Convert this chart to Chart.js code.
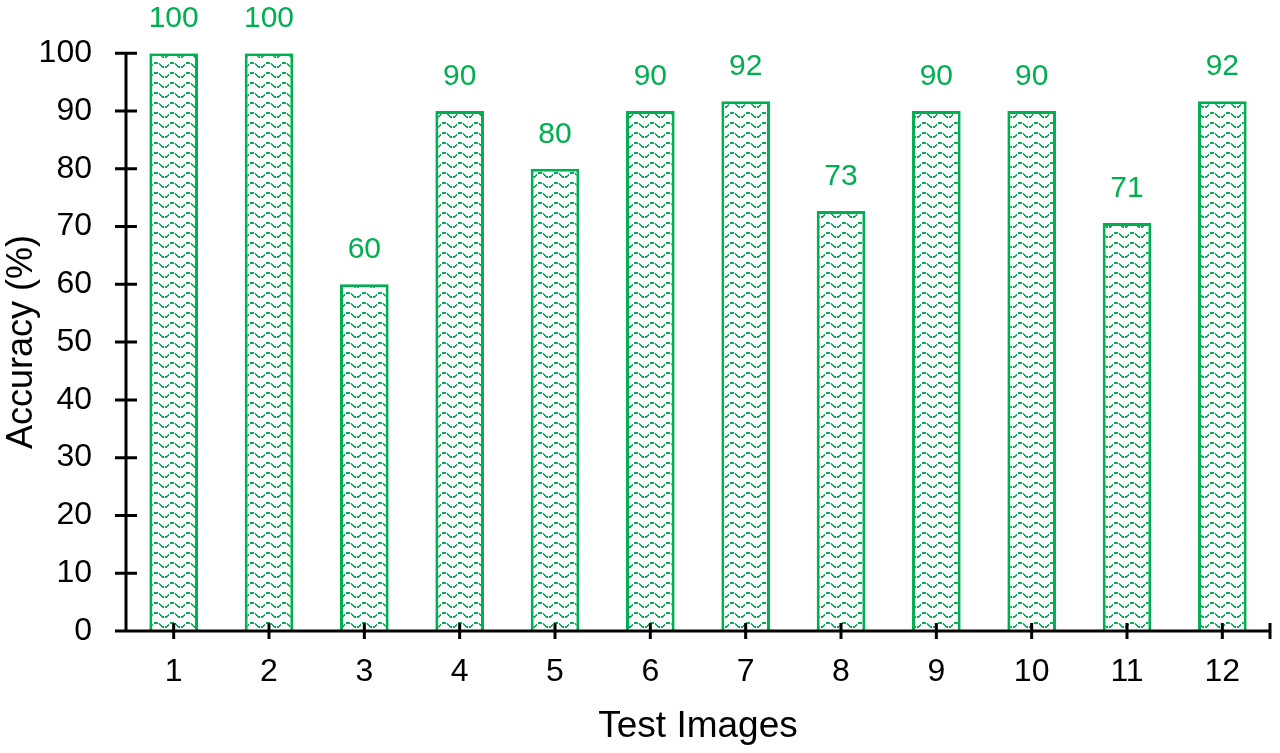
<!DOCTYPE html>
<html>
<head>
<meta charset="utf-8">
<title>Accuracy per test image</title>
<script src="https://cdn.jsdelivr.net/npm/chart.js@4.4.1/dist/chart.umd.min.js"></script>
<style>
  html, body { margin: 0; padding: 0; background: #fff; }
  #wrap { width: 1280px; height: 753px; position: relative; }
</style>
</head>
<body>
<div id="wrap"><canvas id="accChart"></canvas></div>
<script>
const imageLabels = ["1", "2", "3", "4", "5", "6", "7", "8", "9", "10", "11", "12"];
const accuracy = [100, 100, 60, 90, 80, 90, 91.7, 72.7, 90, 90, 70.6, 91.7];
const yTicks = [0, 10, 20, 30, 40, 50, 60, 70, 80, 90, 100];

const green = "#00B050";
const font = "'Liberation Sans', Arial, sans-serif";

// wavy hatch like the Excel "wave" pattern fill
function makeWavePattern() {
  const c = document.createElement("canvas");
  c.width = 16;
  c.height = 10;
  const g = c.getContext("2d");
  g.fillStyle = "#fff";
  g.fillRect(0, 0, 16, 10);
  g.fillStyle = green;
  for (let x = 0; x < 16; x++) {
    if (x % 5 === 4) continue;
    const y = Math.round(4 + 2.5 * Math.sin((x / 16) * Math.PI * 2));
    g.fillRect(x, y, 1, 2);
  }
  return g.createPattern(c, "repeat");
}

// axes drawn as lines with ticks crossing them
const axisPlugin = {
  id: "crossAxes",
  afterDraw(chart) {
    const ctx = chart.ctx;
    const x = chart.scales.x;
    const y = chart.scales.y;
    const left = chart.chartArea.left;
    const right = chart.chartArea.right;
    const y0 = y.getPixelForValue(0);
    ctx.save();
    ctx.strokeStyle = "#000";
    ctx.lineWidth = 3;
    ctx.beginPath();
    ctx.moveTo(left, y.getPixelForValue(100));
    ctx.lineTo(left, y0);
    ctx.moveTo(left - 11, y0);
    ctx.lineTo(right, y0);
    yTicks.forEach(v => {
      const py = y.getPixelForValue(v);
      ctx.moveTo(left - 11, py);
      ctx.lineTo(left + 11, py);
    });
    imageLabels.forEach((l, i) => {
      const px = x.getPixelForValue(i);
      ctx.moveTo(px, y0 - 8);
      ctx.lineTo(px, y0 + 8);
    });
    ctx.moveTo(right, y0 - 8);
    ctx.lineTo(right, y0 + 8);
    ctx.stroke();
    ctx.restore();
  }
};

const valueLabels = {
  id: "valueLabels",
  afterDatasetsDraw(chart) {
    const ctx = chart.ctx;
    const meta = chart.getDatasetMeta(0);
    ctx.save();
    ctx.fillStyle = green;
    ctx.font = "30px " + font;
    ctx.textAlign = "center";
    ctx.textBaseline = "alphabetic";
    meta.data.forEach((bar, i) => {
      ctx.fillText(Math.round(accuracy[i]), bar.x, bar.y - 26);
    });
    ctx.restore();
  }
};

new Chart(document.getElementById("accChart"), {
  type: "bar",
  data: {
    labels: imageLabels,
    datasets: [{
      data: accuracy,
      backgroundColor: makeWavePattern(),
      borderColor: green,
      borderWidth: 3,
      barPercentage: 0.51,
      categoryPercentage: 1.0
    }]
  },
  options: {
    responsive: true,
    maintainAspectRatio: false,
    animation: false,
    layout: { padding: { top: 52, right: 10, left: 0, bottom: 0 } },
    plugins: {
      legend: { display: false },
      tooltip: { enabled: false }
    },
    scales: {
      x: {
        grid: { display: false, drawTicks: false },
        border: { display: false },
        ticks: { color: "#000", font: { family: font, size: 32 }, padding: 22 },
        title: {
          display: true,
          text: "Test Images",
          color: "#000",
          font: { family: font, size: 37 },
          padding: { top: 0, bottom: 4 }
        },
        afterFit(scale) { scale.height = 122; }
      },
      y: {
        min: 0,
        max: 100,
        grid: { display: false, drawTicks: false },
        border: { display: false },
        ticks: { stepSize: 10, color: "#000", font: { family: font, size: 32 }, padding: 34 },
        title: {
          display: true,
          text: "Accuracy (%)",
          color: "#000",
          font: { family: font, size: 36 },
          padding: { top: 0, bottom: 0 }
        },
        afterFit(scale) { scale.width = 126; }
      }
    }
  },
  plugins: [axisPlugin, valueLabels]
});
</script>
</body>
</html>
